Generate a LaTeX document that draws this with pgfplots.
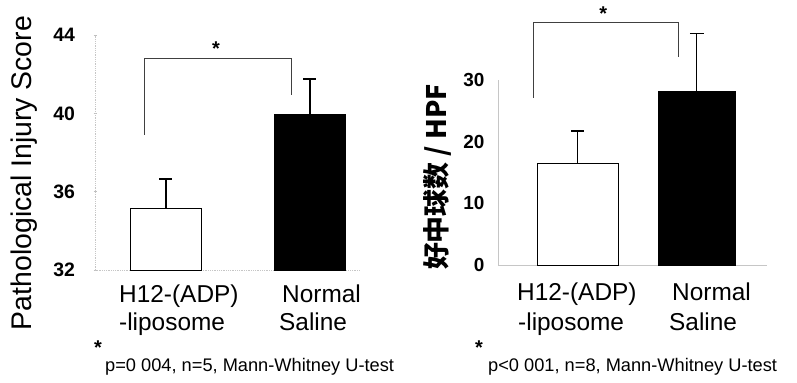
\documentclass[border=0pt]{standalone}
\usepackage{pgfplots}
\pgfplotsset{compat=1.18}
\usepackage{fontspec}
\setmainfont{Liberation Sans}
\newfontfamily\cjk{Noto Sans CJK SC}
\begin{document}
\begin{tikzpicture}[x=1bp,y=1bp]
\path[use as bounding box] (0,0) rectangle (797,382);
% ---------------- left chart ----------------
\begin{axis}[at={(95bp,112bp)}, anchor=south west, scale only axis,
  width=265bp, height=235bp,
  xmin=-0.49, xmax=1.35, ymin=32, ymax=44,
  axis x line=bottom, axis y line=left,
  axis line style={gray!45, densely dotted, -, line width=0.8bp},
  xtick=\empty, ytick={32,36,40,44},
  tick style={gray!50, line width=0.6bp}, major tick length=3bp, tick align=center,
  yticklabel style={font=\bfseries\fontsize{19.5}{19.5}\selectfont, xshift=-15bp},
  /pgf/number format/assume math mode=true]
\addplot[ybar, bar shift=0pt, bar width=71bp, fill=white, draw=black, line width=1bp,
  error bars/.cd, y dir=plus, y explicit,
  error bar style={line width=2bp, black},
  error mark options={rotate=90, mark size=6.5bp, line width=2bp, black}]
  coordinates {(0,35.16) +- (0,1.48)};
\addplot[ybar, bar shift=0pt, bar width=71bp, fill=black, draw=black, line width=1bp,
  error bars/.cd, y dir=plus, y explicit,
  error bar style={line width=2bp, black},
  error mark options={rotate=90, mark size=6.5bp, line width=2bp, black}]
  coordinates {(1,39.95) +- (0,1.79)};
\addplot[black!75, line width=0.9bp] coordinates {(-0.15,38.9) (-0.15,42.8) (0.877,42.8) (0.877,40.93)};
\node[font=\bfseries\fontsize{20}{20}\selectfont] at (axis cs:0.35,43.3) {*};
\end{axis}
% ---------------- right chart ----------------
\begin{axis}[at={(498bp,117bp)}, anchor=south west, scale only axis,
  width=269bp, height=185bp,
  xmin=-0.67, xmax=1.59, ymin=0, ymax=30, clip=false,
  axis x line=bottom, axis y line=left,
  axis line style={gray!45, -, line width=0.8bp},
  xtick=\empty, ytick={0,10,20,30},
  major tick length=0pt,
  yticklabel style={font=\bfseries\fontsize{19}{19}\selectfont, xshift=-10bp},
  /pgf/number format/assume math mode=true]
\addplot[ybar, bar shift=0pt, bar width=81bp, fill=white, draw=black, line width=1bp,
  error bars/.cd, y dir=plus, y explicit,
  error bar style={line width=1.4bp, black},
  error mark options={rotate=90, mark size=6.5bp, line width=1.4bp, black}]
  coordinates {(0,16.5) +- (0,5.2)};
\addplot[ybar, bar shift=0pt, bar width=77bp, fill=black, draw=black, line width=1bp,
  error bars/.cd, y dir=plus, y explicit,
  error bar style={line width=1.2bp, black},
  error mark options={rotate=90, mark size=7bp, line width=1.2bp, black}]
  coordinates {(1,28.2) +- (0,9.4)};
\addplot[black!75, line width=0.9bp] coordinates {(-0.37,27.1) (-0.37,39.4) (0.845,39.4) (0.845,33.7)};
\node[font=\bfseries\fontsize{20}{20}\selectfont] at (axis cs:0.215,40.8) {*};
\end{axis}
% ---------------- labels ----------------
\node[rotate=90, font=\fontsize{28.5}{28.5}\selectfont] at (24,209) {Pathological Injury Score};
\node[rotate=90, font=\fontsize{27}{27}\selectfont\cjk\bfseries] at (437,205) {好中球数 / HPF};
\begin{scope}[every node/.style={anchor=base west, inner sep=0pt, font=\fontsize{24.5}{24.5}\selectfont}]
\node at (119,80) {H12-(ADP)};
\node at (119,52) {-liposome};
\node at (282,80) {Normal};
\node at (279,52) {Saline};
\node at (517,82) {H12-(ADP)};
\node at (518,52) {-liposome};
\node at (672,82) {Normal};
\node at (669,52) {Saline};
\end{scope}
\begin{scope}[every node/.style={anchor=base west, inner sep=0pt, font=\fontsize{18.3}{18.3}\selectfont}]
\node at (105,11) {p=0 004, n=5, Mann-Whitney U-test};
\node at (488,11) {p<0 001, n=8, Mann-Whitney U-test};
\end{scope}
\node[font=\bfseries\fontsize{20}{20}\selectfont, inner sep=0pt] at (98,34) {*};
\node[font=\bfseries\fontsize{20}{20}\selectfont, inner sep=0pt] at (479,34) {*};
\end{tikzpicture}
\end{document}
